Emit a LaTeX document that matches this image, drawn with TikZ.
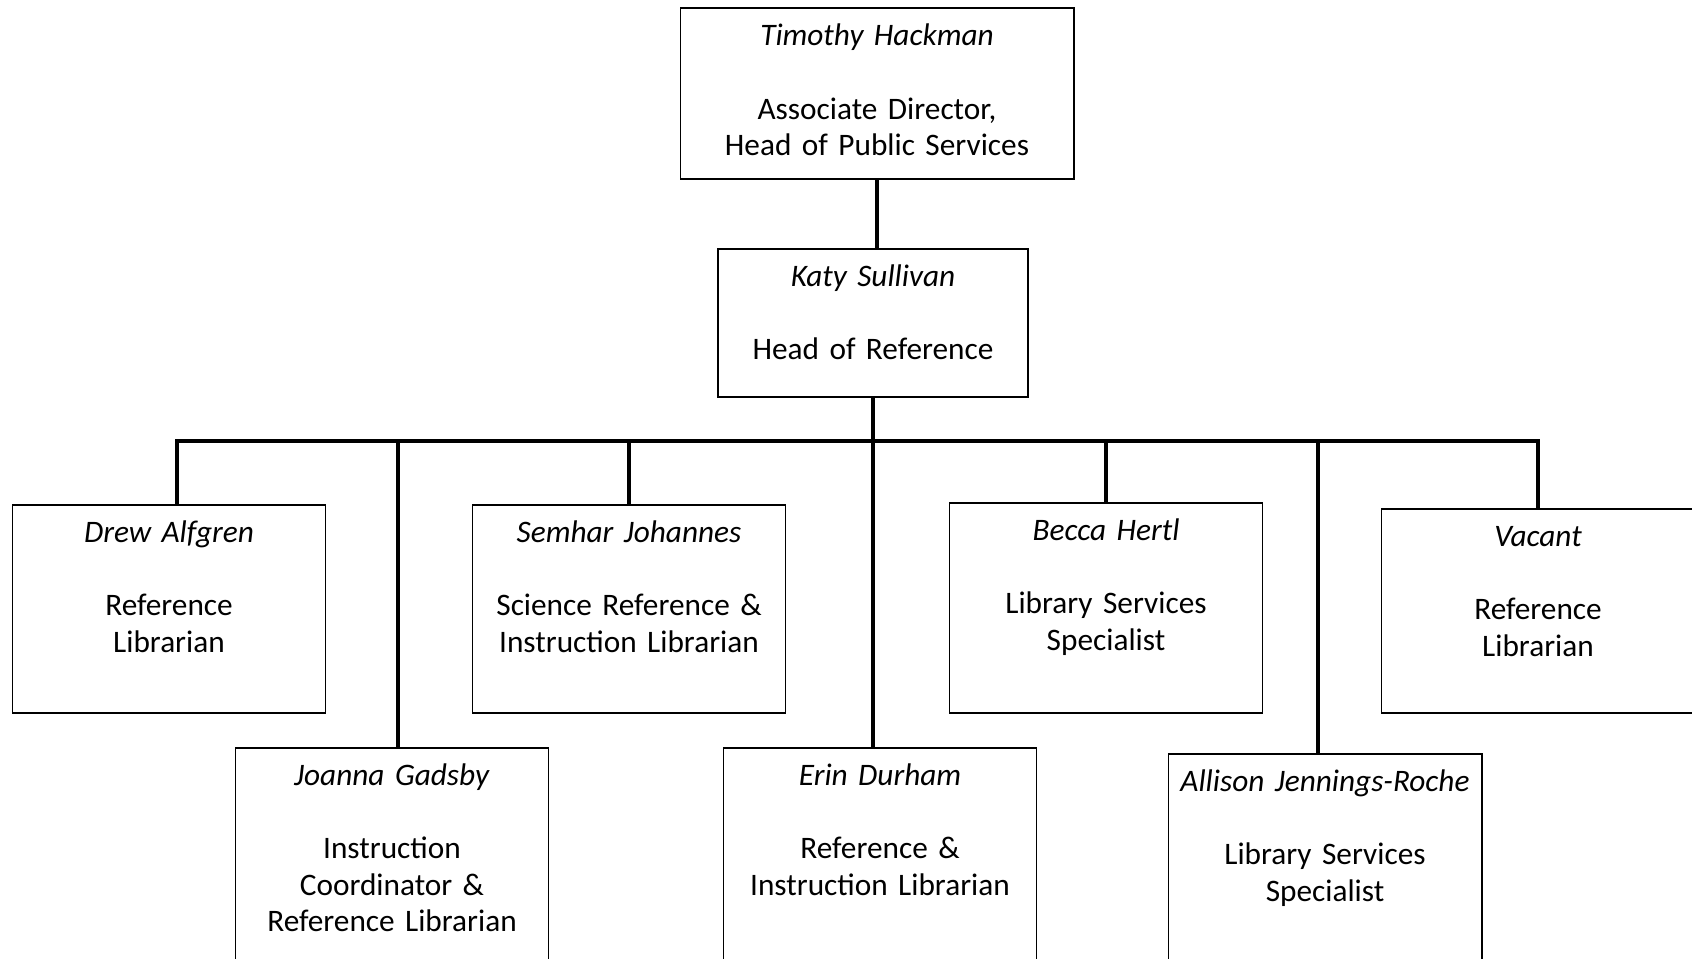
\documentclass[tikz,border=0pt]{standalone}
\usepackage{fontspec}
\setmainfont{Carlito}
\usepackage{tikz}

\begin{document}
\begin{tikzpicture}[x=0.01cm,y=-0.01cm]
		\tikzset{staffbox/.style={draw, line width=0.5pt, inner sep=0pt, anchor=north, align=center, text width=3.13cm, text height=0.375cm, text depth=#1, font=\fontsize{8.9}{10.4}\selectfont}};
		\tikzset{conn/.style={line width=1.2pt}};
		\useasboundingbox (0,0) rectangle (1692,958);
		% top of the chart
		\node[staffbox=1.33cm, text width=3.93cm] (tim) at (877,7.5) {\textit{Timothy Hackman}\\[10.4pt] Associate Director,\\ Head of Public Services};
		\node[staffbox=1.105cm, text width=3.10cm] (katy) at (873,248) {\textit{Katy Sullivan}\\[10.4pt] Head of Reference};
		% first row
		\node[staffbox=1.705cm] (drew) at (169,504) {\textit{Drew Alfgren}\\[10.4pt] Reference\\ Librarian};
		\node[staffbox=1.705cm] (semhar) at (629,504) {\textit{Semhar Johannes}\\[10.4pt] Science Reference \&\\ Instruction Librarian};
		\node[staffbox=1.725cm] (becca) at (1106,502) {\textit{Becca Hertl}\\[10.4pt] Library Services\\ Specialist};
		\node[staffbox=1.665cm] (vacant) at (1538,508) {\textit{Vacant}\\[10.4pt] Reference\\ Librarian};
		% second row
		\node[staffbox=2.3cm] (joanna) at (392,747) {\textit{Joanna Gadsby}\\[10.4pt] Instruction\\ Coordinator \&\\ Reference Librarian};
		\node[staffbox=2.3cm] (erin) at (880,747) {\textit{Erin Durham}\\[10.4pt] Reference \&\\ Instruction Librarian};
		\node[staffbox=2.3cm] (allison) at (1325,753) {\textit{Allison Jennings-Roche}\\[10.4pt] Library Services\\ Specialist};
		\coordinate (bus) at (0,441);
		\draw[conn] (tim.south) -- (tim.south |- katy.north);
		\draw[conn] (katy.south) -- (katy.south |- erin.north);
		\draw[conn] ([xshift=0.08cm]drew.north) |- (bus -| vacant.north) -- (vacant.north);
		\draw[conn] ([xshift=0.06cm]joanna.north) -- ([xshift=0.06cm]joanna.north |- bus);
		\draw[conn] ([xshift=-0.07cm]allison.north) -- ([xshift=-0.07cm]allison.north |- bus);
		\foreach \who in {semhar,becca}
			\draw[conn] (\who.north) -- (\who.north |- bus);
	\end{tikzpicture}
\end{document}
